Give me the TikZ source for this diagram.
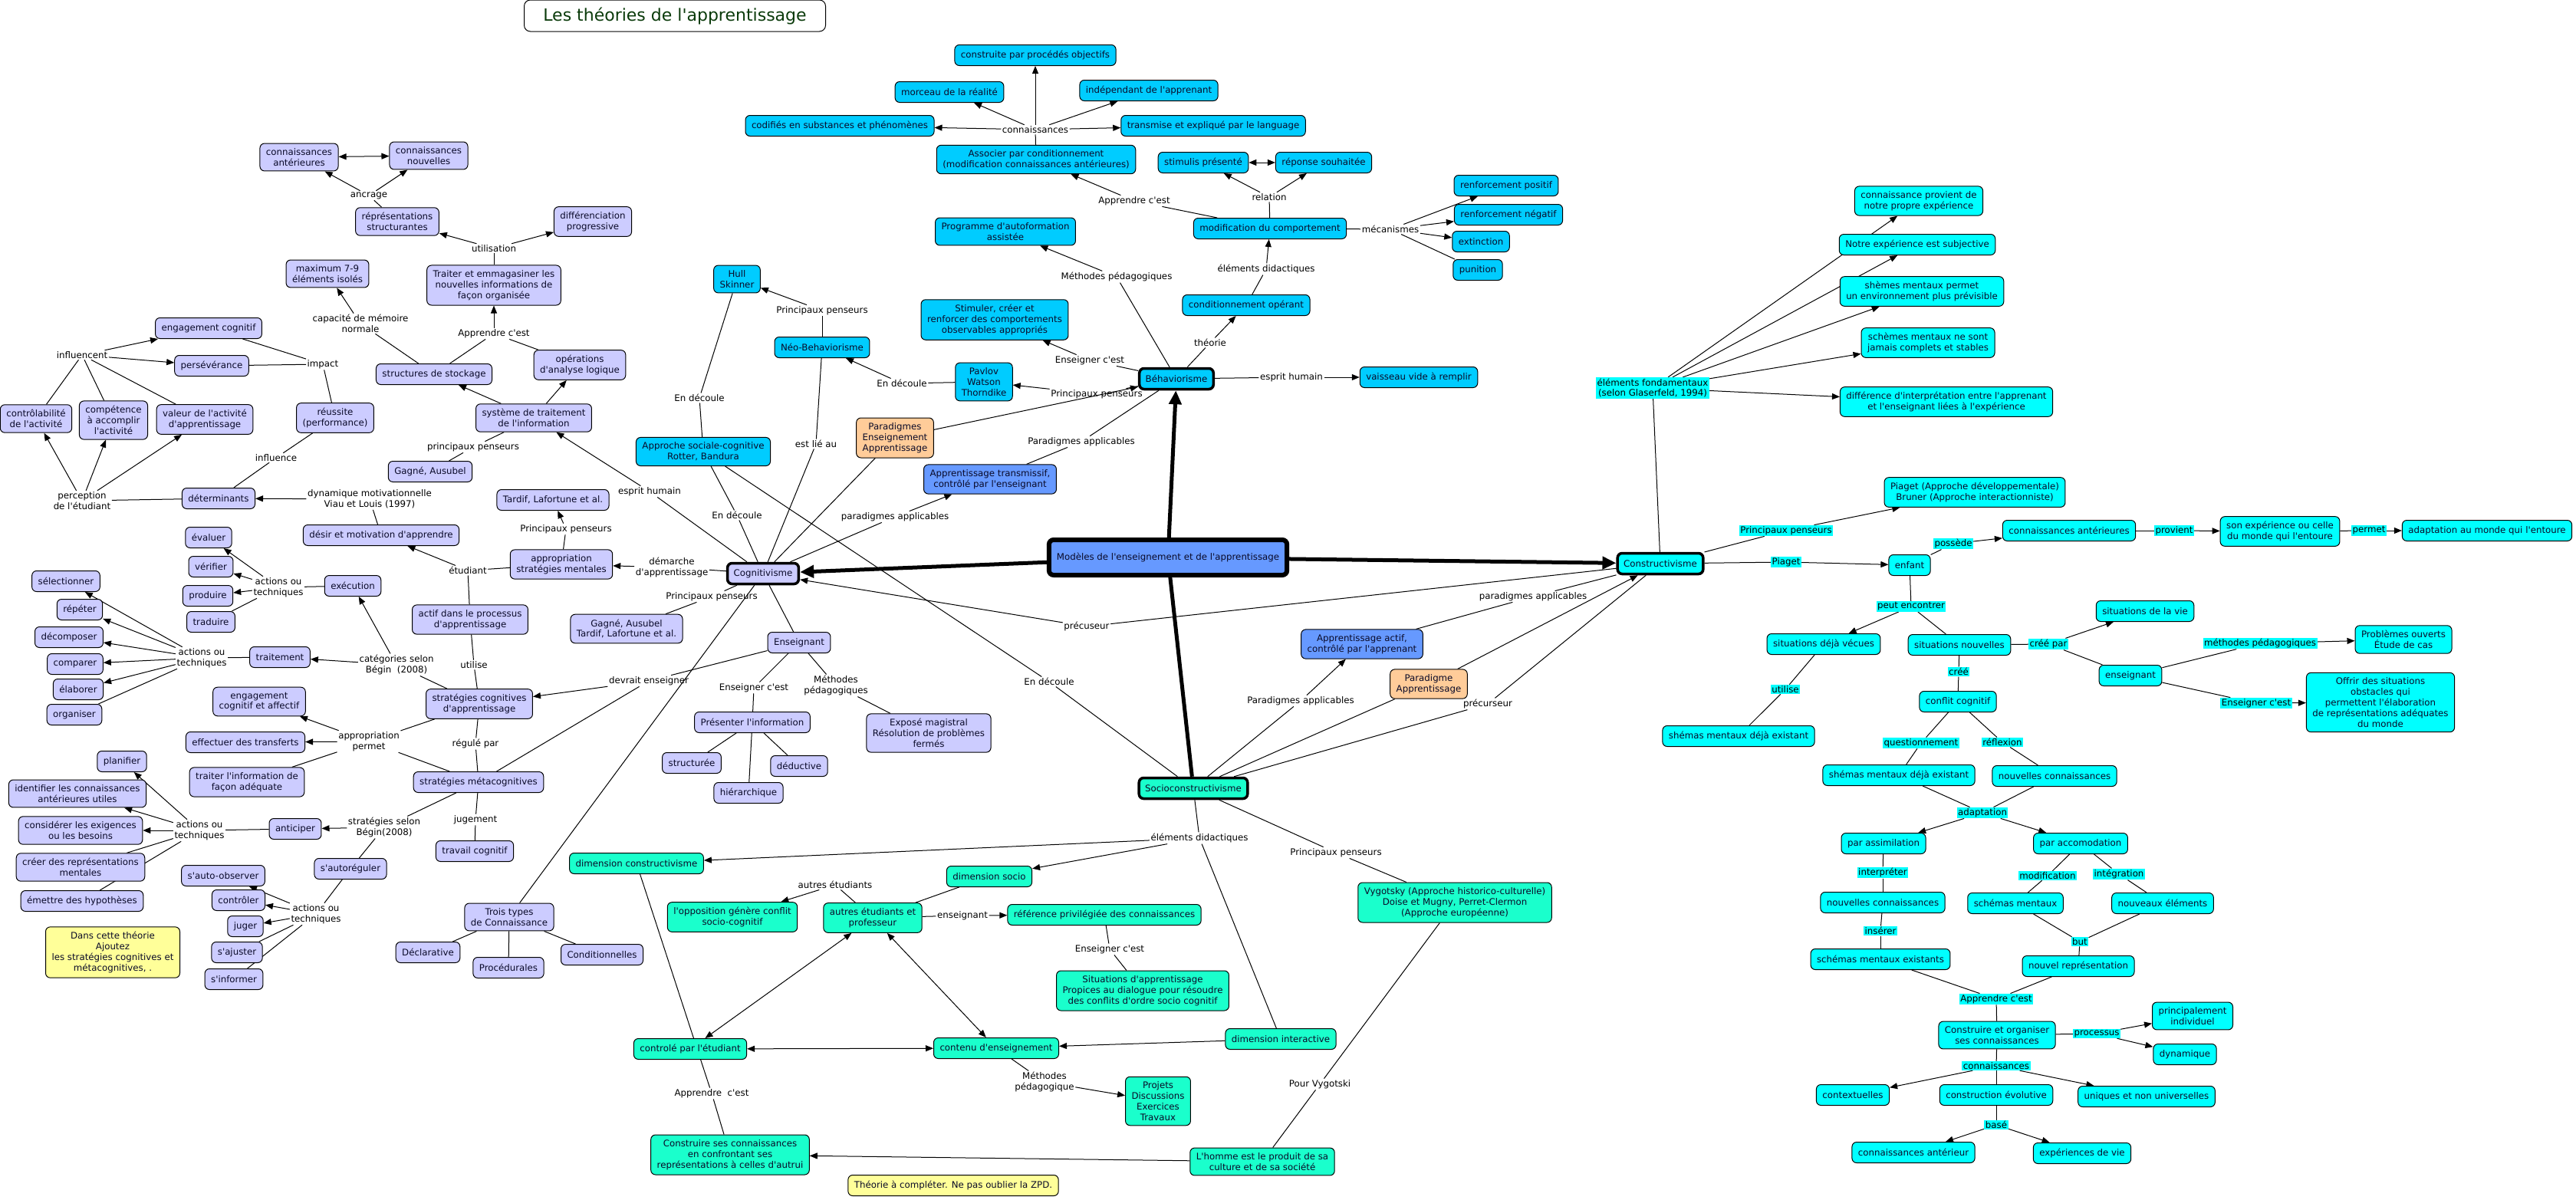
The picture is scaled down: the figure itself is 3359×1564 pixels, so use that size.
\documentclass[tikz,border=0pt]{standalone}
\usepackage{fontspec}
\setmainfont{DejaVu Sans}[Ligatures=TeXOff]
\usetikzlibrary{arrows.meta}
\definecolor{clav}{HTML}{CCCCFF}
\definecolor{cbh}{HTML}{00CCFF}
\definecolor{ccy}{HTML}{00FFFF}
\definecolor{csc}{HTML}{1AFFCC}
\definecolor{cbl}{HTML}{6699FF}
\definecolor{cor}{HTML}{FFCC99}
\definecolor{cye}{HTML}{FFFF99}
\definecolor{ctxt}{HTML}{0A0A28}
\definecolor{cttl}{HTML}{0B3B0B}
\pgfdeclarelayer{background}
\pgfsetlayers{background,main}
\newcommand{\mapfs}{\fontsize{11.8}{13.8}\selectfont}
\tikzset{
  box/.style={draw=black, line width=1pt, rounded corners=6pt, align=center,
    inner xsep=8pt, inner ysep=6.5pt, minimum height=27pt, text=ctxt, font=\mapfs},
  nlav/.style={box, fill=clav},
  nbh/.style={box, fill=cbh},
  ncy/.style={box, fill=ccy},
  nsc/.style={box, fill=csc},
  nbl/.style={box, fill=cbl},
  nor/.style={box, fill=cor},
  nye/.style={box, fill=cye},
  thk/.style={line width=3.5pt},
  lab/.style={align=center, inner sep=1.5pt, text=black, font=\mapfs},
  labc/.style={lab, fill=ccy},
  ln/.style={draw=black, line width=1pt},
  ar/.style={ln, -{Triangle[length=10pt,width=8pt]}},
  dar/.style={ln, {Triangle[length=10pt,width=8pt]}-{Triangle[length=10pt,width=8pt]}},
  bigln/.style={draw=black, line width=5pt},
  bigar/.style={bigln, -{Triangle[length=18pt,width=16pt]}},
}
\begin{document}
\begin{tikzpicture}[x=1pt,y=-1pt]
\useasboundingbox (0,0) rectangle (3359,1564);
% title
\node[draw=black, line width=1pt, rounded corners=8pt, fill=white, text=cttl,
  font=\fontsize{22}{26}\selectfont, minimum width=393pt, minimum height=41pt] (title) at (880,20.5) {Les théories de l'apprentissage};

% ---------------- Cognitivisme ----------------
\node[nlav] (connant) at (390,205) {connaissances\\antérieures};
\node[nlav] (connnouv) at (559,203) {connaissances\\nouvelles};
\node[nlav] (repr) at (518,289) {réprésentations\\structurantes};
\node[nlav] (diff) at (773,289) {différenciation\\progressive};
\node[nlav] (max79) at (427,357) {maximum 7-9\\éléments isolés};
\node[nlav] (traiter) at (644,372) {Traiter et emmagasiner les\\nouvelles informations de\\façon organisée};
\node[nlav] (engag) at (272,428) {engagement cognitif};
\node[nlav] (persev) at (276,477) {persévérance};
\node[nlav] (structures) at (566,488) {structures de stockage};
\node[nlav] (operations) at (756,476) {opérations\\d'analyse logique};
\node[nlav] (contr) at (47,546) {contrôlabilité\\de l'activité};
\node[nlav] (compet) at (148,548) {compétence\\à accomplir\\l'activité};
\node[nlav] (valeur) at (267,547) {valeur de l'activité\\d'apprentissage};
\node[nlav] (reussite) at (437,545) {réussite\\(performance)};
\node[nlav] (systeme) at (696,545) {système de traitement\\de l'information};
\node[nlav] (gagne1) at (561,615) {Gagné, Ausubel};
\node[nlav] (determ) at (285,650) {déterminants};
\node[nlav] (tardif) at (721,652) {Tardif, Lafortune et al.};
\node[nlav] (desir) at (497,698) {désir et motivation d'apprendre};
\node[nlav] (approp) at (732,736) {appropriation\\stratégies mentales};
\node[nlav] (evaluer) at (272,701) {évaluer};
\node[nlav] (verifier) at (275,739) {vérifier};
\node[nlav] (produire) at (271,777) {produire};
\node[nlav] (traduire) at (275,811) {traduire};
\node[nlav] (execution) at (460,764) {exécution};
\node[nlav] (selectionner) at (86,758) {sélectionner};
\node[nlav] (repeter) at (104,795) {répéter};
\node[nlav] (decomposer) at (90,831) {décomposer};
\node[nlav] (comparer) at (98,866) {comparer};
\node[nlav] (elaborer) at (102,899) {élaborer};
\node[nlav] (organiser) at (97,932) {organiser};
\node[nlav] (traitement) at (365,857) {traitement};
\node[nlav] (actif) at (613,808) {actif dans le processus\\d'apprentissage};
\node[nlav] (stratcog) at (625,918) {stratégies cognitives\\d'apprentissage};
\node[nlav] (engag2) at (338,915) {engagement\\cognitif et affectif};
\node[nlav] (transferts) at (320,968) {effectuer des transferts};
\node[nlav] (traiterinfo) at (322,1020) {traiter l'information de\\façon adéquate};
\node[nlav] (stratmeta) at (624,1020) {stratégies métacognitives};
\node[nlav] (planifier) at (159,993) {planifier};
\node[nlav] (identifier) at (101,1035) {identifier les connaissances\\antérieures utiles};
\node[nlav] (considerer) at (105,1083) {considérer les exigences\\ou les besoins};
\node[nlav] (creer) at (105,1131) {créer des représentations\\mentales};
\node[nlav] (emettre) at (107,1175) {émettre des hypothèses};
\node[nlav] (anticiper) at (385,1081) {anticiper};
\node[nlav] (travail) at (619,1110) {travail cognitif};
\node[nlav] (autoreg) at (457,1133) {s'autoréguler};
\node[nlav] (autoobs) at (291,1142) {s'auto-observer};
\node[nlav] (controler) at (311,1174) {contrôler};
\node[nlav] (juger) at (320,1208) {juger};
\node[nlav] (sajuster) at (309,1242) {s'ajuster};
\node[nlav] (sinformer) at (305,1277) {s'informer};
\node[nlav] (troistypes) at (664,1196) {Trois types\\de Connaissance};
\node[nlav] (declarative) at (558,1242) {Déclarative};
\node[nlav] (procedurales) at (663,1262) {Procédurales};
\node[nlav] (conditionnelles) at (785,1245) {Conditionnelles};
\node[nlav] (gagne2) at (817,820) {Gagné, Ausubel\\Tardif, Lafortune et al.};
\node[nlav] (enseignant) at (1042,838) {Enseignant};
\node[nlav] (presenter) at (981,942) {Présenter l'information};
\node[nlav] (expose) at (1211,956) {Exposé magistral\\Résolution de problèmes\\fermés};
\node[nlav] (structuree) at (902,995) {structurée};
\node[nlav] (deductive) at (1042,999) {déductive};
\node[nlav] (hierarchique) at (976,1034) {hiérarchique};
\node[nlav, thk] (cognitivisme) at (995,748) {Cognitivisme};
\node[nye] (note1) at (147,1242) {Dans cette théorie\\Ajoutez\\les stratégies cognitives et\\métacognitives, .};

% labels cognitivisme
\node[lab] (ancrage) at (481,255) {ancrage};
\node[lab] (utilisation) at (644,324) {utilisation};
\node[lab] (capmem) at (470,422) {capacité de mémoire\\normale};
\node[lab] (apprendre1) at (644,435) {Apprendre c'est};
\node[lab] (influencent) at (107,463) {influencent};
\node[lab] (impact) at (421,475) {impact};
\node[lab] (influence) at (360,597) {influence};
\node[lab] (princpens1) at (617,583) {principaux penseurs};
\node[lab] (perception) at (107,653) {perception\\de l'étudiant};
\node[lab] (dynmot) at (482,651) {dynamique motivationnelle\\Viau et Louis (1997)};
\node[lab] (esprithum1) at (847,641) {esprit humain};
\node[lab] (princpens2) at (738,690) {Principaux penseurs};
\node[lab] (demarche) at (876,740) {démarche\\d'apprentissage};
\node[lab] (etudiant) at (610,744) {étudiant};
\node[lab] (actionsA) at (363,766) {actions ou\\techniques};
\node[lab] (actionsB) at (263,858) {actions ou\\techniques};
\node[lab] (categories) at (517,867) {catégories selon\\Bégin~~(2008)};
\node[lab] (utilise1) at (618,867) {utilise};
\node[lab] (devrait) at (846,888) {devrait enseigner};
\node[lab] (approperm) at (481,967) {appropriation\\permet};
\node[lab] (regule) at (620,970) {régulé par};
\node[lab] (actionsC) at (260,1083) {actions ou\\techniques};
\node[lab] (strategies2) at (501,1079) {stratégies selon\\Bégin(2008)};
\node[lab] (jugement) at (620,1069) {jugement};
\node[lab] (actionsD) at (412,1192) {actions ou\\techniques};
\node[lab] (princpens3) at (928,778) {Principaux penseurs};
\node[lab] (enseigner1) at (983,897) {Enseigner c'est};
\node[lab] (methodes1) at (1090,894) {Méthodes\\pédagogiques};
\node[lab] (endecoule3) at (961,672) {En découle};
\node[lab] (estlie) at (1064,579) {est lié au};
\node[lab] (parapp1) at (1167,674) {paradigmes applicables};
\node[lab] (precuseur) at (1417,817) {précuseur};

% ---------------- Behaviorisme ----------------
\node[nbh] (construite) at (1350,72) {construite par procédés objectifs};
\node[nbh] (morceau) at (1238,120) {morceau de la réalité};
\node[nbh] (independant) at (1498,118) {indépendant de l'apprenant};
\node[nbh] (codifies) at (1095,164) {codifiés en substances et phénomènes};
\node[nbh] (transmise) at (1582,164) {transmise et expliqué par le language};
\node[nbh] (associer) at (1351,208) {Associer par conditionnement\\(modification connaissances antérieures)};
\node[nbh] (stimulis) at (1569,212) {stimulis présenté};
\node[nbh] (reponse) at (1726,212) {réponse souhaitée};
\node[nbh] (modification) at (1656,298) {modification du comportement};
\node[nbh] (rpos) at (1964,242) {renforcement positif};
\node[nbh] (rneg) at (1967,280) {renforcement négatif};
\node[nbh] (extinction) at (1931,315) {extinction};
\node[nbh] (punition) at (1927,352) {punition};
\node[nbh] (programme) at (1311,302) {Programme d'autoformation\\assistée};
\node[nbh] (condop) at (1625,398) {conditionnement opérant};
\node[nbh] (hull) at (961,364) {Hull\\Skinner};
\node[nbh] (neo) at (1072,453) {Néo-Behaviorisme};
\node[nbh] (stimuler) at (1297,417) {Stimuler, créer et\\renforcer des comportements\\observables appropriés};
\node[nbh] (pavlov) at (1283,498) {Pavlov\\Watson\\Thorndike};
\node[nbh, thk] (behav) at (1534,494) {Béhaviorisme};
\node[nbh] (vaisseau) at (1850,492) {vaisseau vide à remplir};
\node[nbh] (approche) at (917,589) {Approche sociale-cognitive\\Rotter, Bandura};

\node[lab] (connaissances1) at (1350,169) {connaissances};
\node[lab] (relation) at (1655,257) {relation};
\node[lab] (apprendre2) at (1479,262) {Apprendre c'est};
\node[lab] (mecanismes) at (1813,299) {mécanismes};
\node[lab] (methodes2) at (1456,361) {Méthodes pédagogiques};
\node[lab] (elemdid1) at (1651,351) {éléments didactiques};
\node[lab] (theorie) at (1578,447) {théorie};
\node[lab] (princpens4) at (1072,405) {Principaux penseurs};
\node[lab] (enseigner2) at (1421,470) {Enseigner c'est};
\node[lab] (endecoule2) at (1176,500) {En découle};
\node[lab] (princpens5) at (1430,514) {Principaux penseurs};
\node[lab] (esprithum2) at (1684,492) {esprit humain};
\node[lab] (endecoule1) at (912,519) {En découle};
\node[lab] (parapp2) at (1410,576) {Paradigmes applicables};

% ---------------- centre ----------------
\node[nbl, line width=6pt, minimum height=46pt, inner xsep=10pt] (modeles) at (1523,727) {Modèles de l'enseignement et de l'apprentissage};
\node[nbl] (approtrans) at (1291,625) {Apprentissage transmissif,\\contrôlé par l'enseignant};
\node[nbl] (appactif) at (1776,840) {Apprentissage actif,\\contrôlé par l'apprenant};
\node[nor] (paradigmes1) at (1167,571) {Paradigmes\\Enseignement\\Apprentissage};
\node[nor] (orange2) at (1863,892) {Paradigme\\Apprentissage};
\node[lab] (endecoule4) at (1368,889) {En découle};
\node[lab] (parapp4) at (1696,914) {Paradigmes applicables};
\node[lab] (parapp3) at (1999,778) {paradigmes applicables};
\node[lab] (precurseur) at (1940,918) {précurseur};

% ---------------- Constructivisme ----------------
\node[ncy, thk] (constructivisme) at (2165,735) {Constructivisme};
\node[ncy] (connprov) at (2502,262) {connaissance provient de\\notre propre expérience};
\node[ncy] (notreexp) at (2500,319) {Notre expérience est subjective};
\node[ncy] (shemesperm) at (2506,380) {shèmes mentaux permet\\un environnement plus prévisible};
\node[ncy] (schemesne) at (2514,447) {schèmes mentaux ne sont\\jamais complets et stables};
\node[ncy] (difference) at (2538,524) {différence d'interprétation entre l'apprenant\\et l'enseignant liées à l'expérience};
\node[ncy] (piaget) at (2575,642) {Piaget (Approche développementale)\\Bruner (Approche interactionniste)};
\node[ncy] (enfant) at (2490,737) {enfant};
\node[ncy] (connant2) at (2698,692) {connaissances antérieures};
\node[ncy] (sonexp) at (2973,693) {son expérience ou celle\\du monde qui l'entoure};
\node[ncy] (adaptmonde) at (3243,692) {adaptation au monde qui l'entoure};
\node[ncy] (situvecues) at (2378,840) {situations déjà vécues};
\node[ncy] (situnouv) at (2555,841) {situations nouvelles};
\node[ncy] (situvie) at (2797,797) {situations de la vie};
\node[ncy] (enseignant2) at (2778,881) {enseignant};
\node[ncy] (problemes) at (3134,834) {Problèmes ouverts\\Étude de cas};
\node[ncy] (offrir) at (3104,916) {Offrir des situations\\obstacles qui\\permettent l'élaboration\\de représentations adéquates\\du monde};
\node[ncy] (shemas1) at (2267,960) {shémas mentaux déjà existant};
\node[ncy] (conflit) at (2553,915) {conflit cognitif};
\node[ncy] (shemas2) at (2476,1011) {shémas mentaux déjà existant};
\node[ncy] (nouvconn1) at (2679,1012) {nouvelles connaissances};
\node[ncy] (assimilation) at (2456,1100) {par assimilation};
\node[ncy] (accomodation) at (2713,1100) {par accomodation};
\node[ncy] (nouvconn2) at (2455,1177) {nouvelles connaissances};
\node[ncy] (schemasment) at (2628,1178) {schémas mentaux};
\node[ncy] (nouveaux) at (2820,1178) {nouveaux éléments};
\node[ncy] (schemasexist) at (2452,1251) {schémas mentaux existants};
\node[ncy] (nouvrep) at (2710,1260) {nouvel représentation};
\node[ncy] (construire) at (2604,1350) {Construire et organiser\\ses connaissances};
\node[ncy] (principal) at (2859,1325) {principalement\\individuel};
\node[ncy] (dynamique) at (2849,1375) {dynamique};
\node[ncy] (contextuelles) at (2416,1428) {contextuelles};
\node[ncy] (construction) at (2603,1428) {construction évolutive};
\node[ncy] (uniques) at (2799,1430) {uniques et non universelles};
\node[ncy] (connant3) at (2495,1503) {connaissances antérieur};
\node[ncy] (experiences) at (2715,1504) {expériences de vie};

\node[labc] (elements) at (2155,506) {éléments fondamentaux\\(selon Glaserfeld, 1994)};
\node[labc] (princpens6) at (2329,692) {Principaux penseurs};
\node[labc] (piagetlab) at (2329,733) {Piaget};
\node[labc] (possede) at (2547,709) {possède};
\node[labc] (provient) at (2835,692) {provient};
\node[labc] (permet) at (3089,692) {permet};
\node[labc] (peutenc) at (2492,791) {peut encontrer};
\node[labc] (utilise2) at (2328,899) {utilise};
\node[labc] (creepar) at (2671,840) {créé par};
\node[labc] (methodes3) at (2947,839) {méthodes pédagogiques};
\node[labc] (enseigner3) at (2942,917) {Enseigner c'est};
\node[labc] (cree) at (2554,876) {créé};
\node[labc] (questionnement) at (2505,969) {questionnement};
\node[labc] (reflexion) at (2611,968) {réflexion};
\node[labc] (adaptation) at (2585,1060) {adaptation};
\node[labc] (interpreter) at (2455,1138) {interpréter};
\node[labc] (inserer) at (2452,1214) {insérer};
\node[labc] (modiflab) at (2670,1142) {modification};
\node[labc] (integration) at (2763,1140) {intégration};
\node[labc] (but) at (2712,1228) {but};
\node[labc] (apprendre3) at (2603,1303) {Apprendre c'est};
\node[labc] (processus) at (2734,1348) {processus};
\node[labc] (connaissances2) at (2603,1390) {connaissances};
\node[labc] (base) at (2603,1467) {basé};

% ---------------- Socioconstructivisme ----------------
\node[nsc, thk] (socio) at (1556,1028) {Socioconstructivisme};
\node[nsc] (dimconstr) at (830,1126) {dimension constructivisme};
\node[nsc] (dimsocio) at (1290,1143) {dimension socio};
\node[nsc] (autresetu) at (1138,1197) {autres étudiants et\\professeur};
\node[nsc] (opposition) at (955,1196) {l'opposition génère conflit\\socio-cognitif};
\node[nsc] (reference) at (1440,1193) {référence privilégiée des connaissances};
\node[nsc] (situations) at (1490,1292) {Situations d'apprentissage\\Propices au dialogue pour résoudre\\des conflits d'ordre socio cognitif};
\node[nsc] (controle) at (900,1368) {controlé par l'étudiant};
\node[nsc] (contenu) at (1299,1367) {contenu d'enseignement};
\node[nsc] (diminter) at (1670,1355) {dimension interactive};
\node[nsc] (projets) at (1510,1436) {Projets\\Discussions\\Exercices\\Travaux};
\node[nsc] (construire2) at (952,1506) {Construire ses connaissances\\en confrontant ses\\représentations à celles d'autrui};
\node[nsc] (lhomme) at (1646,1515) {L'homme est le produit de sa\\culture et de sa société};
\node[nsc] (vygotsky) at (1897,1177) {Vygotsky (Approche historico-culturelle)\\Doise et Mugny, Perret-Clermon\\(Approche européenne)};
\node[nye] (note2) at (1243,1546) {Théorie à compléter. Ne pas oublier la ZPD.};

\node[lab] (elemdid2) at (1564,1093) {éléments didactiques};
\node[lab] (princpens7) at (1742,1112) {Principaux penseurs};
\node[lab] (autreslab) at (1089,1154) {autres étudiants};
\node[lab] (enseignantlab) at (1255,1194) {enseignant};
\node[lab] (enseigner4) at (1447,1238) {Enseigner c'est};
\node[lab] (methodes4) at (1362,1411) {Méthodes\\pédagogique};
\node[lab] (apprendre4) at (928,1426) {Apprendre~~c'est};
\node[lab] (pourvyg) at (1721,1414) {Pour Vygotski};

\begin{pgfonlayer}{background}
\fill[white] (0,0) rectangle (3359,1564);
% cognitivisme
\draw[dar] (connant) -- (connnouv);
\draw[ar] (ancrage) -- (connant);
\draw[ar] (ancrage) -- (connnouv);
\draw[ln] (repr) -- (ancrage);
\draw[ln] (traiter) -- (utilisation);
\draw[ar] (utilisation) -- (repr);
\draw[ar] (utilisation) -- (diff);
\draw[ln] (structures) -- (capmem);
\draw[ar] (capmem) -- (max79);
\draw[ln] (structures) -- (apprendre1);
\draw[ln] (operations) -- (apprendre1);
\draw[ar] (apprendre1) -- (traiter);
\draw[ar] (systeme) -- (structures);
\draw[ar] (systeme) -- (operations);
\draw[ln] (contr) -- (influencent);
\draw[ln] (compet) -- (influencent);
\draw[ln] (valeur) -- (influencent);
\draw[ar] (influencent) -- (engag);
\draw[ar] (influencent) -- (persev);
\draw[ln] (engag) -- (impact);
\draw[ln] (persev) -- (impact);
\draw[ln] (impact) -- (reussite);
\draw[ln] (reussite) -- (influence);
\draw[ln] (influence) -- (determ);
\draw[ar] (perception) -- (contr);
\draw[ar] (perception) -- (compet);
\draw[ar] (perception) -- (valeur);
\draw[ln] (determ) -- (perception);
\draw[ar] (dynmot) -- (determ);
\draw[ln] (desir) -- (dynmot);
\draw[ln] (systeme) -- (princpens1);
\draw[ln] (princpens1) -- (gagne1);
\draw[ar] (esprithum1) -- (systeme);
\draw[ln] (cognitivisme) -- (esprithum1);
\draw[ln] (approp) -- (princpens2);
\draw[ar] (princpens2) -- (tardif);
\draw[ln] (cognitivisme) -- (demarche);
\draw[ar] (demarche) -- (approp);
\draw[ln] (approp) -- (etudiant);
\draw[ar] (etudiant) -- (desir);
\draw[ln] (etudiant) -- (actif);
\draw[ln] (actif) -- (utilise1);
\draw[ln] (utilise1) -- (stratcog);
\draw[ln] (execution) -- (actionsA);
\draw[ar] (actionsA) -- (evaluer);
\draw[ar] (actionsA) -- (verifier);
\draw[ar] (actionsA) -- (produire);
\draw[ln] (actionsA) -- (traduire);
\draw[ln] (traitement) -- (actionsB);
\draw[ar] (actionsB) -- (selectionner);
\draw[ar] (actionsB) -- (repeter);
\draw[ar] (actionsB) -- (decomposer);
\draw[ar] (actionsB) -- (comparer);
\draw[ar] (actionsB) -- (elaborer);
\draw[ln] (actionsB) -- (organiser);
\draw[ar] (categories) -- (traitement);
\draw[ar] (categories) -- (execution);
\draw[ln] (stratcog) -- (categories);
\draw[ln] (stratcog) -- (approperm);
\draw[ar] (approperm) -- (engag2);
\draw[ar] (approperm) -- (transferts);
\draw[ln] (approperm) -- (traiterinfo);
\draw[ln] (approperm) -- (stratmeta);
\draw[ln] (stratcog) -- (regule);
\draw[ln] (regule) -- (stratmeta);
\draw[ln] (enseignant) -- (devrait);
\draw[ar] (devrait) -- (stratcog);
\draw[ln] (stratmeta) -- (devrait);
\draw[ln] (stratmeta) -- (strategies2);
\draw[ar] (strategies2) -- (anticiper);
\draw[ln] (strategies2) -- (autoreg);
\draw[ln] (anticiper) -- (actionsC);
\draw[ar] (actionsC) -- (planifier);
\draw[ar] (actionsC) -- (identifier);
\draw[ar] (actionsC) -- (considerer);
\draw[ln] (actionsC) -- (creer);
\draw[ln] (actionsC) -- (emettre);
\draw[ln] (autoreg) -- (actionsD);
\draw[ar] (actionsD) -- (autoobs);
\draw[ar] (actionsD) -- (controler);
\draw[ar] (actionsD) -- (juger);
\draw[ln] (actionsD) -- (sajuster);
\draw[ln] (actionsD) -- (sinformer);
\draw[ln] (stratmeta) -- (jugement);
\draw[ln] (jugement) -- (travail);
\draw[ln] (cognitivisme) -- (troistypes);
\draw[ln] (troistypes) -- (declarative);
\draw[ln] (troistypes) -- (procedurales);
\draw[ln] (troistypes) -- (conditionnelles);
\draw[ln] (cognitivisme) -- (princpens3);
\draw[ln] (princpens3) -- (gagne2);
\draw[ln] (cognitivisme) -- (enseignant);
\draw[ln] (enseignant) -- (enseigner1);
\draw[ln] (enseigner1) -- (presenter);
\draw[ln] (presenter) -- (structuree);
\draw[ln] (presenter) -- (deductive);
\draw[ln] (presenter) -- (hierarchique);
\draw[ln] (enseignant) -- (methodes1);
\draw[ln] (methodes1) -- (expose);
\draw[ln] (cognitivisme) -- (endecoule3);
\draw[ln] (endecoule3) -- (approche);
\draw[ln] (cognitivisme) -- (estlie);
\draw[ln] (estlie) -- (neo);
\draw[ln] (cognitivisme) -- (paradigmes1);
\draw[ln] (cognitivisme) -- (parapp1);
\draw[ar] (parapp1) -- (approtrans);
\draw[ln] (constructivisme) -- (precuseur);
\draw[ar] (precuseur) -- (cognitivisme);
% behaviorisme
\draw[ln] (hull) -- (endecoule1);
\draw[ln] (endecoule1) -- (approche);
\draw[ln] (neo) -- (princpens4);
\draw[ar] (princpens4) -- (hull);
\draw[ln] (pavlov) -- (endecoule2);
\draw[ar] (endecoule2) -- (neo);
\draw[ln] (behav) -- (princpens5);
\draw[ar] (princpens5) -- (pavlov);
\draw[ln] (behav) -- (enseigner2);
\draw[ar] (enseigner2) -- (stimuler);
\draw[ln] (behav) -- (methodes2);
\draw[ar] (methodes2) -- (programme);
\draw[ln] (behav) -- (theorie);
\draw[ar] (theorie) -- (condop);
\draw[ln] (condop) -- (elemdid1);
\draw[ar] (elemdid1) -- (modification);
\draw[ln] (modification) -- (apprendre2);
\draw[ar] (apprendre2) -- (associer);
\draw[ln] (modification) -- (relation);
\draw[ar] (relation) -- (stimulis);
\draw[ar] (relation) -- (reponse);
\draw[dar] (stimulis) -- (reponse);
\draw[ln] (modification) -- (mecanismes);
\draw[ar] (mecanismes) -- (rpos);
\draw[ar] (mecanismes) -- (rneg);
\draw[ar] (mecanismes) -- (extinction);
\draw[ln] (mecanismes) -- (punition);
\draw[ln] (associer) -- (connaissances1);
\draw[ar] (connaissances1) -- (construite);
\draw[ar] (connaissances1) -- (morceau);
\draw[ar] (connaissances1) -- (independant);
\draw[ar] (connaissances1) -- (codifies);
\draw[ar] (connaissances1) -- (transmise);
\draw[ln] (behav) -- (esprithum2);
\draw[ar] (esprithum2) -- (vaisseau);
\draw[ar] (paradigmes1) -- (behav);
\draw[ln] (approtrans) -- (parapp2);
\draw[ln] (parapp2) -- (behav);
% centre
\draw[bigar] (modeles) -- (cognitivisme);
\draw[bigar] (modeles) -- (behav);
\draw[bigar] (modeles) -- (constructivisme);
\draw[bigln] (modeles) -- (socio);
% constructivisme
\draw[ln] (constructivisme) -- (elements);
\draw[ar] (elements) -- (connprov);
\draw[ar] (elements) -- (notreexp);
\draw[ar] (elements) -- (shemesperm);
\draw[ar] (elements) -- (schemesne);
\draw[ar] (elements) -- (difference);
\draw[ln] (constructivisme) -- (princpens6);
\draw[ar] (princpens6) -- (piaget);
\draw[ln] (constructivisme) -- (piagetlab);
\draw[ar] (piagetlab) -- (enfant);
\draw[ln] (enfant) -- (possede);
\draw[ar] (possede) -- (connant2);
\draw[ln] (connant2) -- (provient);
\draw[ar] (provient) -- (sonexp);
\draw[ln] (sonexp) -- (permet);
\draw[ar] (permet) -- (adaptmonde);
\draw[ln] (enfant) -- (peutenc);
\draw[ar] (peutenc) -- (situvecues);
\draw[ln] (peutenc) -- (situnouv);
\draw[ln] (situvecues) -- (utilise2);
\draw[ln] (utilise2) -- (shemas1);
\draw[ln] (situnouv) -- (creepar);
\draw[ar] (creepar) -- (situvie);
\draw[ln] (creepar) -- (enseignant2);
\draw[ln] (enseignant2) -- (methodes3);
\draw[ar] (methodes3) -- (problemes);
\draw[ln] (enseignant2) -- (enseigner3);
\draw[ar] (enseigner3) -- (offrir);
\draw[ln] (situnouv) -- (cree);
\draw[ln] (cree) -- (conflit);
\draw[ln] (conflit) -- (questionnement);
\draw[ln] (questionnement) -- (shemas2);
\draw[ln] (conflit) -- (reflexion);
\draw[ln] (reflexion) -- (nouvconn1);
\draw[ln] (shemas2) -- (adaptation);
\draw[ln] (nouvconn1) -- (adaptation);
\draw[ar] (adaptation) -- (assimilation);
\draw[ar] (adaptation) -- (accomodation);
\draw[ln] (assimilation) -- (interpreter);
\draw[ln] (interpreter) -- (nouvconn2);
\draw[ln] (nouvconn2) -- (inserer);
\draw[ln] (inserer) -- (schemasexist);
\draw[ln] (accomodation) -- (modiflab);
\draw[ln] (modiflab) -- (schemasment);
\draw[ln] (accomodation) -- (integration);
\draw[ln] (integration) -- (nouveaux);
\draw[ln] (schemasment) -- (but);
\draw[ln] (nouveaux) -- (but);
\draw[ln] (but) -- (nouvrep);
\draw[ln] (schemasexist) -- (apprendre3);
\draw[ln] (nouvrep) -- (apprendre3);
\draw[ln] (apprendre3) -- (construire);
\draw[ln] (construire) -- (processus);
\draw[ar] (processus) -- (principal);
\draw[ar] (processus) -- (dynamique);
\draw[ln] (construire) -- (connaissances2);
\draw[ar] (connaissances2) -- (contextuelles);
\draw[ar] (connaissances2) -- (uniques);
\draw[ln] (connaissances2) -- (construction);
\draw[ln] (construction) -- (base);
\draw[ar] (base) -- (connant3);
\draw[ar] (base) -- (experiences);
\draw[ln] (appactif) -- (parapp3);
\draw[ln] (parapp3) -- (constructivisme);
\draw[ar] (orange2) -- (constructivisme);
% socio
\draw[ln] (socio) -- (parapp4);
\draw[ar] (parapp4) -- (appactif);
\draw[ln] (socio) -- (orange2);
\draw[ln] (socio) -- (precurseur);
\draw[ln] (precurseur) -- (constructivisme);
\draw[ln] (socio) -- (endecoule4);
\draw[ln] (endecoule4) -- (approche);
\draw[ln] (socio) -- (elemdid2);
\draw[ar] (elemdid2) -- (dimconstr);
\draw[ar] (elemdid2) -- (dimsocio);
\draw[ln] (elemdid2) -- (diminter);
\draw[ln] (socio) -- (princpens7);
\draw[ln] (princpens7) -- (vygotsky);
\draw[ln] (vygotsky) -- (pourvyg);
\draw[ln] (pourvyg) -- (lhomme);
\draw[ar] (lhomme) -- (construire2);
\draw[ln] (dimsocio) -- (autresetu);
\draw[ln] (autresetu) -- (autreslab);
\draw[ar] (autreslab) -- (opposition);
\draw[ln] (autresetu) -- (enseignantlab);
\draw[ar] (enseignantlab) -- (reference);
\draw[ln] (reference) -- (enseigner4);
\draw[ln] (enseigner4) -- (situations);
\draw[dar] (controle) -- (autresetu);
\draw[dar] (autresetu) -- (contenu);
\draw[dar] (controle) -- (contenu);
\draw[ar] (diminter) -- (contenu);
\draw[ln] (contenu) -- (methodes4);
\draw[ar] (methodes4) -- (projets);
\draw[ln] (dimconstr) -- (apprendre4);
\draw[ln] (apprendre4) -- (construire2);
\end{pgfonlayer}
\end{tikzpicture}
\end{document}
